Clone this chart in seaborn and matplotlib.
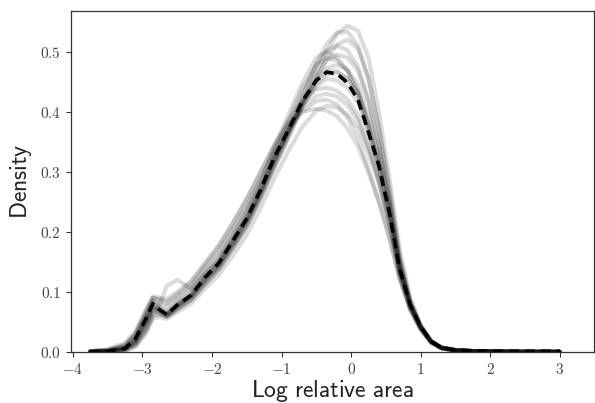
import numpy as np
import pandas as pd
import matplotlib
matplotlib.use("Agg")
import matplotlib.pyplot as plt
import seaborn as sns

# log relative area grid shared by all curves
x_grid = [-3.75, -3.5, -3.25, -3.1, -2.95, -2.85, -2.75, -2.65, -2.5, -2.3,
          -2.1, -1.9, -1.7, -1.5, -1.3, -1.1, -0.9, -0.7, -0.5, -0.35,
          -0.2, -0.05, 0.1, 0.25, 0.4, 0.55, 0.7, 0.85, 1.0, 1.15,
          1.3, 1.5, 1.75, 2.0, 2.5, 3.0]

# mean density (dashed black)
mean_density = [0.000, 0.001, 0.006, 0.022, 0.055, 0.080, 0.070, 0.062, 0.078, 0.094,
                0.124, 0.148, 0.185, 0.222, 0.270, 0.325, 0.370, 0.418, 0.452, 0.466,
                0.463, 0.448, 0.420, 0.366, 0.310, 0.232, 0.137, 0.078, 0.042, 0.017,
                0.007, 0.003, 0.002, 0.001, 0.001, 0.001]

# individual densities (light grey)
sample_densities = [
    [0, 0, 0.004, 0.015, 0.045, 0.07, 0.065, 0.06, 0.072, 0.088, 0.115, 0.14, 0.175, 0.212, 0.258, 0.31, 0.36, 0.415,
     0.465, 0.50, 0.53, 0.543, 0.535, 0.49, 0.40, 0.29, 0.17, 0.09, 0.045, 0.018, 0.007, 0.003, 0.001, 0.001, 0, 0],
    [0, 0.001, 0.005, 0.018, 0.05, 0.075, 0.068, 0.062, 0.076, 0.092, 0.12, 0.145, 0.18, 0.218, 0.265, 0.318, 0.37, 0.425,
     0.48, 0.513, 0.532, 0.533, 0.51, 0.455, 0.37, 0.265, 0.155, 0.083, 0.042, 0.017, 0.006, 0.002, 0.001, 0.001, 0, 0],
    [0, 0.001, 0.006, 0.02, 0.052, 0.078, 0.07, 0.063, 0.078, 0.095, 0.124, 0.15, 0.186, 0.225, 0.272, 0.327, 0.378, 0.43,
     0.477, 0.502, 0.51, 0.502, 0.475, 0.42, 0.345, 0.25, 0.148, 0.08, 0.04, 0.016, 0.006, 0.002, 0.001, 0, 0, 0],
    [0, 0.002, 0.008, 0.025, 0.06, 0.085, 0.075, 0.068, 0.083, 0.1, 0.13, 0.157, 0.195, 0.235, 0.285, 0.342, 0.395, 0.448,
     0.49, 0.50, 0.49, 0.468, 0.43, 0.37, 0.3, 0.22, 0.13, 0.072, 0.037, 0.015, 0.006, 0.002, 0.001, 0, 0, 0],
    [0, 0.001, 0.007, 0.023, 0.057, 0.082, 0.073, 0.066, 0.08, 0.097, 0.127, 0.153, 0.19, 0.229, 0.278, 0.335, 0.386, 0.438,
     0.478, 0.49, 0.485, 0.468, 0.435, 0.378, 0.31, 0.228, 0.135, 0.075, 0.039, 0.016, 0.006, 0.002, 0.001, 0, 0, 0],
    [0, 0.001, 0.005, 0.019, 0.05, 0.074, 0.068, 0.062, 0.077, 0.093, 0.121, 0.146, 0.182, 0.219, 0.267, 0.32, 0.368, 0.415,
     0.455, 0.473, 0.478, 0.47, 0.445, 0.395, 0.33, 0.245, 0.145, 0.08, 0.042, 0.017, 0.007, 0.003, 0.001, 0.001, 0, 0],
    [0, 0, 0.003, 0.012, 0.035, 0.06, 0.08, 0.11, 0.12, 0.105, 0.13, 0.152, 0.188, 0.226, 0.272, 0.325, 0.37, 0.415,
     0.452, 0.468, 0.468, 0.455, 0.428, 0.375, 0.315, 0.236, 0.14, 0.078, 0.04, 0.016, 0.006, 0.002, 0.001, 0, 0, 0],
    [0, 0.001, 0.006, 0.02, 0.05, 0.076, 0.07, 0.063, 0.078, 0.095, 0.122, 0.148, 0.185, 0.222, 0.27, 0.322, 0.365, 0.41,
     0.442, 0.455, 0.452, 0.44, 0.415, 0.365, 0.31, 0.234, 0.14, 0.08, 0.043, 0.018, 0.007, 0.003, 0.001, 0.001, 0.001, 0],
    [0.001, 0.004, 0.015, 0.035, 0.07, 0.092, 0.09, 0.088, 0.1, 0.118, 0.148, 0.178, 0.215, 0.255, 0.3, 0.345, 0.385, 0.418,
     0.437, 0.44, 0.435, 0.42, 0.393, 0.345, 0.285, 0.21, 0.125, 0.07, 0.037, 0.015, 0.006, 0.002, 0.001, 0, 0, 0],
    [0.001, 0.003, 0.012, 0.03, 0.065, 0.09, 0.085, 0.08, 0.092, 0.11, 0.14, 0.168, 0.205, 0.243, 0.288, 0.335, 0.375, 0.407,
     0.426, 0.43, 0.425, 0.41, 0.385, 0.34, 0.285, 0.215, 0.13, 0.074, 0.04, 0.017, 0.007, 0.003, 0.001, 0.001, 0, 0],
    [0.001, 0.003, 0.01, 0.028, 0.06, 0.085, 0.08, 0.075, 0.088, 0.106, 0.135, 0.163, 0.2, 0.24, 0.285, 0.33, 0.37, 0.4,
     0.418, 0.42, 0.412, 0.39, 0.355, 0.305, 0.25, 0.19, 0.12, 0.07, 0.038, 0.017, 0.007, 0.003, 0.001, 0.001, 0, 0],
    [0, 0, 0.002, 0.008, 0.03, 0.055, 0.058, 0.055, 0.066, 0.08, 0.105, 0.128, 0.16, 0.195, 0.24, 0.29, 0.335, 0.375,
     0.402, 0.41, 0.407, 0.395, 0.372, 0.33, 0.28, 0.215, 0.135, 0.078, 0.042, 0.018, 0.007, 0.003, 0.001, 0.001, 0, 0],
    [0.001, 0.003, 0.011, 0.03, 0.068, 0.09, 0.088, 0.084, 0.096, 0.116, 0.146, 0.176, 0.214, 0.255, 0.3, 0.345, 0.38, 0.4,
     0.405, 0.402, 0.392, 0.372, 0.342, 0.298, 0.25, 0.19, 0.122, 0.072, 0.04, 0.018, 0.008, 0.003, 0.001, 0.001, 0, 0],
    [0, 0, 0.002, 0.01, 0.035, 0.06, 0.062, 0.058, 0.07, 0.086, 0.112, 0.137, 0.172, 0.21, 0.258, 0.31, 0.36, 0.41,
     0.447, 0.462, 0.465, 0.455, 0.432, 0.385, 0.325, 0.245, 0.145, 0.082, 0.043, 0.018, 0.007, 0.003, 0.001, 0.001, 0, 0],
    [0, 0.001, 0.004, 0.016, 0.045, 0.07, 0.066, 0.06, 0.074, 0.09, 0.117, 0.142, 0.177, 0.214, 0.262, 0.316, 0.366, 0.418,
     0.462, 0.485, 0.495, 0.49, 0.468, 0.418, 0.345, 0.255, 0.15, 0.082, 0.042, 0.017, 0.006, 0.002, 0.001, 0, 0, 0],
    [0, 0, 0.003, 0.013, 0.04, 0.065, 0.063, 0.058, 0.072, 0.087, 0.113, 0.138, 0.172, 0.208, 0.255, 0.307, 0.356, 0.408,
     0.455, 0.488, 0.512, 0.52, 0.505, 0.455, 0.375, 0.275, 0.16, 0.086, 0.043, 0.017, 0.006, 0.002, 0.001, 0, 0, 0],
]

x_ticks = [-4, -3, -2, -1, 0, 1, 2, 3]
y_ticks = [0.0, 0.1, 0.2, 0.3, 0.4, 0.5]


def build_long_frame(x, curves):
    rows = []
    for i, curve in enumerate(curves):
        for xv, yv in zip(x, curve):
            rows.append({"curve": i, "x": xv, "density": yv})
    return pd.DataFrame(rows)


def main():
    sns.set_style("ticks")
    plt.rcParams["mathtext.fontset"] = "cm"

    fig = plt.figure(figsize=(5.95, 4.03), dpi=100)
    ax = fig.add_axes([0.119, 0.127, 0.879, 0.846])

    samples = build_long_frame(x_grid, sample_densities)
    sns.lineplot(data=samples, x="x", y="density", units="curve", estimator=None,
                 color="black", alpha=0.14, linewidth=3, solid_joinstyle="round", ax=ax)

    mean_df = pd.DataFrame({"x": x_grid, "density": mean_density})
    sns.lineplot(data=mean_df, x="x", y="density", color="black", linewidth=2.6,
                 linestyle=(0, (2.8, 1.6)), ax=ax)

    ax.set_xlim(-4.03, 3.49)
    ax.set_ylim(0, 0.568)

    ax.set_xticks(x_ticks, labels=[f"${t}$" for t in x_ticks])
    ax.set_yticks(y_ticks, labels=[f"${t:.1f}$" for t in y_ticks])
    ax.tick_params(axis="both", labelsize=11, labelcolor="#444444", color="#333333",
                   length=3.5, width=0.8, direction="out")

    for spine in ax.spines.values():
        spine.set_visible(True)
        spine.set_color("#333333")
        spine.set_linewidth(0.9)

    ax.set_xlabel(r"$\mathsf{Log\ relative\ area}$", fontsize=17, color="#222222", labelpad=1)
    ax.set_ylabel(r"$\mathsf{Density}$", fontsize=17, color="#222222", labelpad=4)

    fig.savefig("out.png", dpi=100)


if __name__ == "__main__":
    main()
